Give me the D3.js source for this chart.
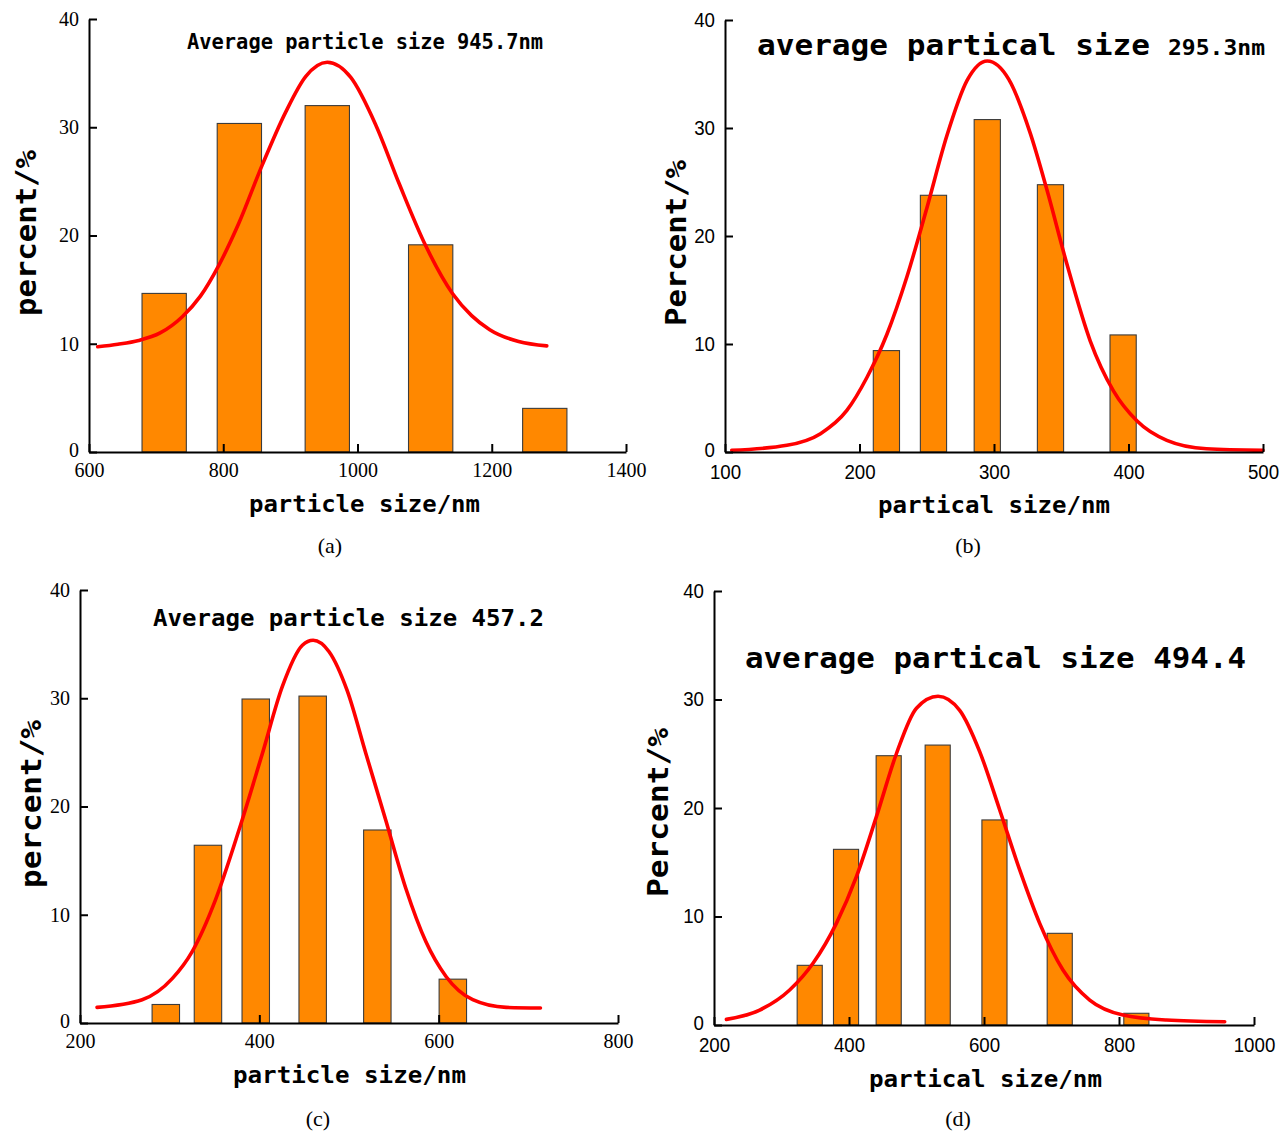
<!DOCTYPE html>
<html>
<head>
<meta charset="utf-8">
<script src="https://cdn.jsdelivr.net/npm/d3@7"></script>
<style>
  body { margin: 0; background: #fff; }
  svg { display: block; }
</style>
</head>
<body>
<svg id="fig" width="1286" height="1133"></svg>
<script>
// ---------- data ----------
const percentTicks = [0, 10, 20, 30, 40];

// (a)
const sizeA = [712, 824, 955, 1109, 1279];
const pctA = [14.65, 30.35, 32.0, 19.14, 4.03];
const binWidthA = 66;
const fitSizeA = [613, 643, 674, 706, 739, 766, 793, 823, 858, 893, 923, 955, 990, 1028, 1062, 1102, 1142, 1170, 1197, 1240, 1282];
const fitPctA = [9.72, 9.95, 10.3, 11.0, 12.5, 14.4, 17.2, 21.1, 26.5, 31.4, 34.7, 36.0, 34.6, 30.1, 24.8, 19.0, 14.6, 12.6, 11.3, 10.2, 9.8];
const xTicksA = [600, 800, 1000, 1200, 1400];

// (b)
const sizeB = [220, 255, 295, 342, 396];
const pctB = [9.39, 23.77, 30.78, 24.75, 10.84];
const binWidthB = 19.5;
const fitSizeB = [105, 146, 171, 190.6, 205.5, 220.4, 235.2, 250.1, 265, 280, 295, 311, 327, 339.3, 354.2, 371.5, 388.8, 406.2, 428.5, 458, 500];
const fitPctB = [0.16, 0.62, 1.7, 3.85, 6.9, 10.9, 16.2, 22.6, 29.3, 34.4, 36.2, 34.5, 29.5, 24.3, 17.4, 10.3, 5.66, 2.89, 1.08, 0.3, 0.16];
const xTicksB = [100, 200, 300, 400, 500];

// (c)
const sizeC = [295.7, 342.7, 396, 459.5, 531.6, 615.8];
const pctC = [1.71, 16.42, 29.93, 30.2, 17.83, 4.05];
const binWidthC = 30.6;
const fitSizeC = [219, 269.3, 302.8, 325.1, 351.2, 377.2, 403.4, 425.7, 448, 460, 477.8, 498, 518.8, 541.1, 563.5, 585.8, 608.2, 638, 675.2, 713.5];
const fitPctC = [1.44, 2.15, 4.1, 6.6, 11.4, 17.8, 24.9, 31.1, 34.9, 35.36, 34.3, 30.7, 24.9, 18.7, 12.4, 7.5, 4.3, 2.15, 1.44, 1.38];
const xTicksC = [200, 400, 600, 800];

// (d)
const sizeD = [341.8, 395.6, 458.8, 531.4, 615.5, 712.2, 825.7];
const pctD = [5.5, 16.19, 24.82, 25.8, 18.9, 8.45, 1.08];
const binWidthD = 37.2;
const fitSizeD = [218.4, 267.7, 312.1, 346.7, 381.3, 411, 440.6, 470.2, 499.9, 531.9, 564, 593.6, 623.3, 652.9, 682.5, 717, 756.6, 805.9, 870.2, 956.6];
const fitPctD = [0.52, 1.38, 3.23, 5.69, 9.37, 13.67, 19.2, 25.0, 29.2, 30.3, 29.0, 25.2, 19.82, 14.29, 9.37, 5.07, 2.3, 0.92, 0.46, 0.3];
const xTicksD = [200, 400, 600, 800, 1000];

// ---------- styling ----------
const SERIF = "'Liberation Serif', 'DejaVu Serif', serif";
const SANS = "'Liberation Sans', 'DejaVu Sans', sans-serif";
const MONO = "'DejaVu Sans Mono', 'Liberation Mono', monospace";
const BAR_FILL = "#ff8800";
const BAR_EDGE = "#3c3c3c";
const FIT_COLOR = "#ff0000";

const panels = [
  {
    sizes: sizeA, pcts: pctA, binWidth: binWidthA, fitX: fitSizeA, fitY: fitPctA,
    xDomain: [600, 1400], xTicks: xTicksA,
    box: { left: 89, right: 626, top: 19, bottom: 452 },
    tickFont: SERIF, tickSize: 20, digitWidth: null, xPad: 11,
    title: [{ text: "Average particle size 945.7nm", x0: 187, x1: 543, y: 49, size: 21 }],
    xLabel: { text: "particle size/nm", x0: 249, x1: 480, y: 512 },
    yLabel: { text: "percent/%", cx: 36, y0: 150, y1: 316 },
    caption: { text: "(a)", x: 330, y: 553 }
  },
  {
    sizes: sizeB, pcts: pctB, binWidth: binWidthB, fitX: fitSizeB, fitY: fitPctB,
    xDomain: [100, 500], xTicks: xTicksB,
    box: { left: 725, right: 1263, top: 20, bottom: 452 },
    tickFont: SANS, tickSize: 20, digitWidth: 10.4, xPad: 13,
    title: [
      { text: "average partical size", x0: 757, x1: 1150, y: 55, size: 29 },
      { text: "295.3nm", x0: 1168, x1: 1265, y: 55, size: 22 }
    ],
    xLabel: { text: "partical size/nm", x0: 878, x1: 1110, y: 513 },
    yLabel: { text: "Percent/%", cx: 686, y0: 160, y1: 326 },
    caption: { text: "(b)", x: 968, y: 553 }
  },
  {
    sizes: sizeC, pcts: pctC, binWidth: binWidthC, fitX: fitSizeC, fitY: fitPctC,
    xDomain: [200, 800], xTicks: xTicksC,
    box: { left: 80, right: 618, top: 590, bottom: 1023 },
    tickFont: SERIF, tickSize: 20, digitWidth: null, xPad: 11,
    title: [{ text: "Average particle size 457.2", x0: 153, x1: 544, y: 626, size: 23 }],
    xLabel: { text: "particle size/nm", x0: 233, x1: 466, y: 1083 },
    yLabel: { text: "percent/%", cx: 41, y0: 720, y1: 888 },
    caption: { text: "(c)", x: 318, y: 1126 }
  },
  {
    sizes: sizeD, pcts: pctD, binWidth: binWidthD, fitX: fitSizeD, fitY: fitPctD,
    xDomain: [200, 1000], xTicks: xTicksD,
    box: { left: 714, right: 1254, top: 591, bottom: 1025 },
    tickFont: SANS, tickSize: 20, digitWidth: 10.4, xPad: 13,
    title: [{ text: "average partical size 494.4", x0: 745, x1: 1246, y: 668, size: 28 }],
    xLabel: { text: "partical size/nm", x0: 869, x1: 1102, y: 1087 },
    yLabel: { text: "Percent/%", cx: 668, y0: 728, y1: 897 },
    caption: { text: "(d)", x: 958, y: 1126 }
  }
];

const svg = d3.select("#fig");
const plainInt = d3.format("d");

function drawPanel(p) {
  const g = svg.append("g");
  const x = d3.scaleLinear().domain(p.xDomain).range([p.box.left, p.box.right]);
  const y = d3.scaleLinear().domain([0, 40]).range([p.box.bottom, p.box.top]);

  // histogram bins
  const bins = d3.zip(p.sizes, p.pcts);
  g.append("g").selectAll("rect").data(bins).join("rect")
    .attr("x", d => x(d[0] - p.binWidth / 2))
    .attr("width", d => x(d[0] + p.binWidth / 2) - x(d[0] - p.binWidth / 2))
    .attr("y", d => y(d[1]))
    .attr("height", d => y(0) - y(d[1]))
    .attr("fill", BAR_FILL)
    .attr("stroke", BAR_EDGE)
    .attr("stroke-width", 1.1);

  // fitted distribution
  const line = d3.line()
    .x(d => x(d[0]))
    .y(d => y(d[1]))
    .curve(d3.curveMonotoneX);
  g.append("path")
    .datum(d3.zip(p.fitX, p.fitY))
    .attr("d", line)
    .attr("fill", "none")
    .attr("stroke", FIT_COLOR)
    .attr("stroke-width", 3.6)
    .attr("stroke-linecap", "round")
    .attr("stroke-linejoin", "round");

  // axes (ticks point into the plot)
  const xAxis = d3.axisBottom(x).tickValues(p.xTicks).tickFormat(plainInt)
    .tickSizeInner(-8).tickSizeOuter(0).tickPadding(p.xPad);
  const yAxis = d3.axisLeft(y).tickValues(percentTicks).tickFormat(plainInt)
    .tickSizeInner(-8).tickSizeOuter(0).tickPadding(10);

  const gx = g.append("g").attr("transform", `translate(0,${p.box.bottom})`).call(xAxis);
  const gy = g.append("g").attr("transform", `translate(${p.box.left},0)`).call(yAxis);
  [gx, gy].forEach(a => {
    a.select(".domain").attr("stroke", "#000").attr("stroke-width", 2);
    a.selectAll(".tick line").attr("stroke", "#000").attr("stroke-width", 2);
    const labels = a.selectAll(".tick text")
      .attr("fill", "#000")
      .style("font-family", p.tickFont)
      .style("font-size", p.tickSize + "px");
    if (p.digitWidth) {
      // narrow, tall numerals
      labels.attr("textLength", d => String(d).length * p.digitWidth)
        .attr("lengthAdjust", "spacingAndGlyphs");
    }
  });
  // lift the zero label slightly so it clears the first x label
  gy.selectAll(".tick").filter(d => d === 0).select("text").attr("dy", "0.2em");

  // title
  p.title.forEach(t => {
    g.append("text")
      .attr("x", t.x0).attr("y", t.y)
      .attr("textLength", t.x1 - t.x0)
      .attr("lengthAdjust", "spacingAndGlyphs")
      .style("font-family", MONO)
      .style("font-weight", "bold")
      .style("font-size", t.size + "px")
      .attr("fill", "#000")
      .text(t.text);
  });

  // x axis title
  g.append("text")
    .attr("x", p.xLabel.x0).attr("y", p.xLabel.y)
    .attr("textLength", p.xLabel.x1 - p.xLabel.x0)
    .attr("lengthAdjust", "spacingAndGlyphs")
    .style("font-family", MONO)
    .style("font-weight", "bold")
    .style("font-size", "23px")
    .attr("fill", "#000")
    .text(p.xLabel.text);

  // y axis title
  g.append("text")
    .attr("transform", `translate(${p.yLabel.cx},${p.yLabel.y1}) rotate(-90)`)
    .attr("x", 0).attr("y", 0)
    .attr("textLength", p.yLabel.y1 - p.yLabel.y0)
    .attr("lengthAdjust", "spacingAndGlyphs")
    .style("font-family", MONO)
    .style("font-weight", "bold")
    .style("font-size", "29px")
    .attr("fill", "#000")
    .text(p.yLabel.text);

  // panel caption
  g.append("text")
    .attr("x", p.caption.x).attr("y", p.caption.y)
    .attr("text-anchor", "middle")
    .style("font-family", SERIF)
    .style("font-size", "22px")
    .attr("fill", "#000")
    .text(p.caption.text);
}

panels.forEach(drawPanel);
</script>
</body>
</html>
